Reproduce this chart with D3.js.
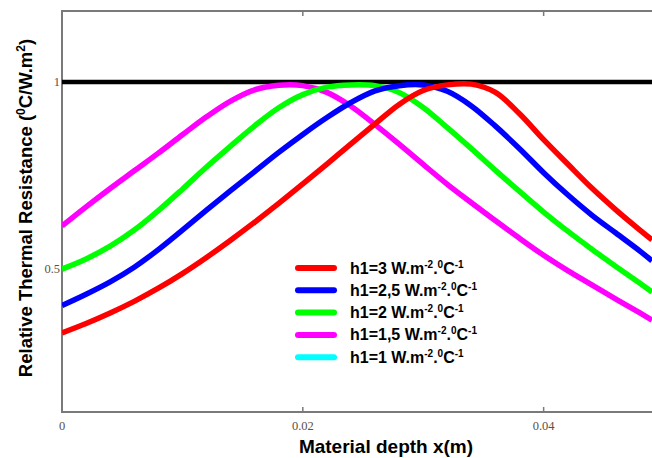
<!DOCTYPE html>
<html>
<head>
<meta charset="utf-8">
<script src="https://cdn.jsdelivr.net/npm/d3@7"></script>
<style>
  body { margin: 0; background: #fff; }
  svg { display: block; }
  .tick-label { font-family: "Liberation Serif", "DejaVu Serif", serif; font-size: 12.5px; fill: #5a5048; }
  .axis-title { font-family: "Liberation Sans", Arial, sans-serif; font-weight: bold; fill: #000; }
  .legend text { font-family: "Liberation Sans", Arial, sans-serif; font-weight: bold; font-size: 16px; fill: #000; }
</style>
</head>
<body>
<div id="chart"></div>
<script>
// depth x (m)
const depth = [0, 0.002, 0.004, 0.006, 0.008, 0.010, 0.012, 0.014, 0.016, 0.018, 0.020, 0.022, 0.024,
  0.026, 0.028, 0.030, 0.032, 0.034, 0.036, 0.038, 0.040, 0.042, 0.044, 0.046, 0.048, 0.049];

// relative thermal resistance for each h1
const h3 = [0.331, 0.356, 0.384, 0.415, 0.450, 0.489, 0.532, 0.578, 0.626, 0.676, 0.728, 0.781, 0.835,
  0.888, 0.940, 0.977, 0.992, 0.994, 0.972, 0.915, 0.846, 0.781, 0.717, 0.659, 0.605, 0.579];
const h25 = [0.404, 0.434, 0.467, 0.506, 0.553, 0.605, 0.658, 0.710, 0.761, 0.812, 0.860, 0.905, 0.945,
  0.976, 0.990, 0.992, 0.975, 0.936, 0.882, 0.822, 0.758, 0.699, 0.645, 0.597, 0.549, 0.523];
const h2 = [0.501, 0.528, 0.562, 0.605, 0.657, 0.714, 0.773, 0.829, 0.883, 0.931, 0.966, 0.986, 0.992,
  0.990, 0.972, 0.932, 0.878, 0.822, 0.764, 0.708, 0.653, 0.602, 0.554, 0.508, 0.463, 0.440];
const h15 = [0.616, 0.667, 0.716, 0.763, 0.810, 0.859, 0.907, 0.949, 0.979, 0.991, 0.990, 0.972, 0.935,
  0.886, 0.834, 0.780, 0.727, 0.678, 0.630, 0.583, 0.538, 0.497, 0.459, 0.421, 0.384, 0.365];
const h1 = []; // curve lies outside the plotted depth range

const refValue = 1;
const xTicks = [0, 0.02, 0.04];
const yTicks = [0.5, 1];

const series = [
  { label: "h1=3", color: "#ff0000", values: h3 },
  { label: "h1=2,5", color: "#0000ff", values: h25 },
  { label: "h1=2", color: "#00ff00", values: h2 },
  { label: "h1=1,5", color: "#ff00ff", values: h15 },
  { label: "h1=1", color: "#00ffff", values: h1 }
];

const W = 652, H = 458;
const mLeft = 62, mRight = 652, mTop = 11, mBottom = 412;

const svg = d3.select("#chart").append("svg")
  .attr("width", W)
  .attr("height", H);

const x = d3.scaleLinear().domain([0, 0.049]).range([mLeft, mRight]);
const y = d3.scaleLinear().domain([0.12, 1.189]).range([mBottom, mTop]);

svg.append("clipPath").attr("id", "plot")
  .append("rect")
  .attr("x", mLeft).attr("y", mTop)
  .attr("width", mRight - mLeft).attr("height", mBottom - mTop);

// frame (left, top, bottom)
const frame = svg.append("g").attr("stroke", "#7a7a7a").attr("stroke-width", 2).attr("fill", "none");
frame.append("path").attr("d", `M${mRight},${mTop}H${mLeft}V${mBottom}H${mRight}`);

// tick marks on top and bottom
xTicks.filter(d => d > 0).forEach(d => {
  frame.append("line").attr("x1", x(d)).attr("x2", x(d)).attr("y1", mTop).attr("y2", mTop + 5).attr("stroke-width", 1.5);
  frame.append("line").attr("x1", x(d)).attr("x2", x(d)).attr("y1", mBottom).attr("y2", mBottom - 5).attr("stroke-width", 1.5);
});

// tick labels
svg.selectAll(".xt").data(xTicks).enter().append("text")
  .attr("class", "tick-label")
  .attr("x", d => x(d))
  .attr("y", mBottom + 18)
  .attr("text-anchor", "middle")
  .text(d => d === 0 ? "0" : d3.format(".2f")(d));

svg.selectAll(".yt").data(yTicks).enter().append("text")
  .attr("class", "tick-label")
  .attr("x", mLeft - 2)
  .attr("y", d => y(d) + 4)
  .attr("text-anchor", "end")
  .text(d => d === 1 ? "1" : "0.5");

const plot = svg.append("g").attr("clip-path", "url(#plot)");

const line = d3.line()
  .x((d, i) => x(depth[i]))
  .y(d => y(d))
  .curve(d3.curveCatmullRom.alpha(0.5));

// reference line at 1
plot.append("line")
  .attr("x1", x(0)).attr("x2", x(0.049))
  .attr("y1", y(refValue)).attr("y2", y(refValue))
  .attr("stroke", "#000").attr("stroke-width", 4.5);

plot.selectAll(".curve").data(series.filter(s => s.values.length).reverse()).enter().append("path")
  .attr("class", "curve")
  .attr("fill", "none")
  .attr("stroke", s => s.color)
  .attr("stroke-width", 5.5)
  .attr("stroke-linejoin", "round")
  .attr("d", s => line(s.values));

// axis titles
svg.append("text")
  .attr("class", "axis-title")
  .attr("x", 386).attr("y", 453)
  .attr("text-anchor", "middle")
  .attr("font-size", 19)
  .text("Material depth x(m)");

const yt = svg.append("text")
  .attr("class", "axis-title")
  .attr("transform", "translate(32,208) rotate(-90)")
  .attr("text-anchor", "middle")
  .attr("font-size", 18.5);
yt.append("tspan").text("Relative Thermal Resistance (");
yt.append("tspan").attr("font-size", 12).attr("dy", -7).text("0");
yt.append("tspan").attr("dy", 7).text("C/W.m");
yt.append("tspan").attr("font-size", 12).attr("dy", -7).text("2");
yt.append("tspan").attr("dy", 7).text(")");

// legend
const legend = svg.append("g").attr("class", "legend");
const rows = legend.selectAll("g").data(series).enter().append("g")
  .attr("transform", (d, i) => `translate(296,${268 + i * 22.3})`);
rows.append("line")
  .attr("x1", 2).attr("x2", 38)
  .attr("stroke", d => d.color)
  .attr("stroke-width", 6)
  .attr("stroke-linecap", "round");
const lt = rows.append("text").attr("x", 54).attr("y", 5.5);
lt.append("tspan").text(d => d.label + " W.m");
lt.append("tspan").attr("font-size", 10).attr("dy", -6).text("-2");
lt.append("tspan").attr("dy", 6).text(".");
lt.append("tspan").attr("font-size", 10).attr("dy", -6).text("0");
lt.append("tspan").attr("dy", 6).text("C");
lt.append("tspan").attr("font-size", 10).attr("dy", -6).text("-1");
</script>
</body>
</html>
